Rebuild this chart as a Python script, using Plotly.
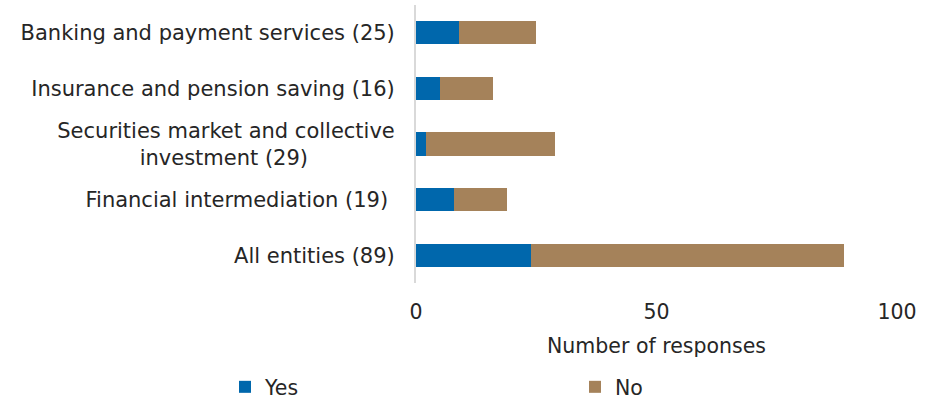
import plotly.graph_objects as go

# Survey responses per sector (bottom-to-top order for the y axis)
categories = [
    "All entities (89)",
    "Financial intermediation (19) ",
    "Securities market and collective<br>investment (29)" + "\u00a0" * 13,
    "Insurance and pension saving (16)",
    "Banking and payment services (25)",
]
yes_values = [24, 8, 2, 5, 9]
no_values = [65, 11, 27, 11, 16]

x_ticks = [0, 50, 100]

FONT = "DejaVu Sans"
FS = 21
TXT = "#262626"
BLUE = "#0067AC"
BROWN = "#A5825A"

fig = go.Figure()
fig.add_trace(go.Bar(
    y=categories, x=yes_values, name="Yes", orientation="h",
    marker=dict(color=BLUE, line=dict(width=0)),
    legend="legend",
))
fig.add_trace(go.Bar(
    y=categories, x=no_values, name="No", orientation="h",
    marker=dict(color=BROWN, line=dict(width=0)),
    legend="legend2",
))

legend_common = dict(
    orientation="h",
    xref="container", yref="container",
    xanchor="left", yanchor="middle",
    y=1 - 387 / 400,
    itemwidth=30,
    font=dict(family=FONT, size=20.5, color=TXT),
    bgcolor="rgba(0,0,0,0)",
)

fig.update_layout(
    barmode="stack",
    bargap=0.58,
    width=929, height=400,
    margin=dict(l=416, r=32, t=5, b=117),
    paper_bgcolor="white", plot_bgcolor="white",
    font=dict(family=FONT, size=FS, color=TXT),
    showlegend=True,
    legend=dict(x=225 / 929, **legend_common),
    legend2=dict(x=575 / 929, **legend_common),
    xaxis=dict(
        range=[0, 100],
        tickvals=x_ticks,
        ticktext=[str(v) for v in x_ticks],
        showgrid=False, zeroline=False, showline=False,
        ticks="outside", ticklen=10, tickcolor="rgba(0,0,0,0)",
        title=dict(text="Number of responses", standoff=16,
                   font=dict(family=FONT, size=20.5, color=TXT)),
        tickfont=dict(family=FONT, size=20.5, color=TXT),
    ),
    yaxis=dict(
        showgrid=False, zeroline=False,
        showline=True, linecolor="#D9D9D9", linewidth=2,
        ticks="outside", ticklen=15, tickcolor="rgba(0,0,0,0)",
        tickfont=dict(family=FONT, size=FS, color=TXT),
        categoryorder="array", categoryarray=categories,
    ),
)

fig.write_html("out.html")
